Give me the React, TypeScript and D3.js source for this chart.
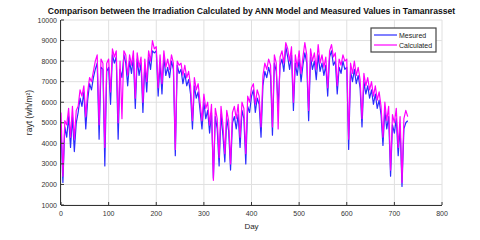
import React, { useMemo } from 'react';
import { scaleLinear, line, range } from 'd3';

// one value every 4 days (day 0 .. 728)
const STEP_DAYS = 4;

const MEASURED = [
	4700, 2100, 4800, 4300, 5300, 3800, 5300, 3600, 5000, 5500,
	6200, 5800, 6500, 4700, 6100, 6900, 6600, 7200, 7600, 7900,
	4200, 7700, 7600, 2900, 7500, 7700, 5900, 8300, 7900, 8200,
	4200, 7600, 7200, 8300, 7900, 6800, 8000, 7400, 8200, 5700,
	8100, 7300, 7900, 5500, 7800, 6500, 8200, 7600, 8500, 8400,
	8500, 6300, 7900, 6400, 8200, 7300, 7700, 7200, 8000, 7600,
	3400, 7800, 7400, 7600, 6900, 7400, 6800, 7100, 6400, 4700,
	6800, 6200, 6500, 5600, 4700, 6000, 5200, 5600, 4500, 5500,
	2300, 5300, 4700, 2900, 5400, 4400, 3100, 5200, 4600, 2700,
	5000, 5300, 4700, 5400, 3800, 5600, 5200, 3000, 5800, 5500,
	6300, 6600, 5500, 6200, 5900, 4300, 6800, 7500, 7200, 7700,
	7300, 4400, 7900, 7500, 5800, 7800, 8100, 7500, 8700, 8200,
	7600, 8300, 5600, 7900, 7300, 8100, 7000, 7800, 8400, 7900,
	5100, 8200, 7600, 8000, 7100, 8300, 7500, 7900, 7300, 7800,
	6300, 8200, 8500, 7800, 8000, 6400, 7700, 7400, 8000, 7600,
	7700, 3700, 7500, 7000, 7600, 6900, 7300, 6700, 4800, 7000,
	6400, 6800, 6200, 6600, 5900, 6400, 5700, 6100, 5400, 3900,
	5600, 4700, 5300, 2400, 4900, 4500, 5200, 3400, 4800, 1900,
	4700, 5000, 5100,
];

const CALCULATED = [
	5500, 2400, 5100, 4900, 5700, 4300, 5800, 4200, 5600, 5800,
	6600, 6300, 6800, 5300, 6500, 7200, 7000, 7500, 8000, 8300,
	4900, 8100, 7900, 3800, 7900, 8100, 6500, 8600, 8200, 8500,
	5000, 8000, 5200, 8500, 8300, 7300, 8300, 7800, 8500, 6200,
	8400, 7700, 8200, 6000, 8100, 7000, 8500, 8000, 9000, 8600,
	8700, 6700, 8300, 6900, 8500, 7700, 8100, 7600, 8300, 7900,
	3700, 8000, 7800, 7900, 7300, 7800, 7200, 7500, 6800, 5100,
	7200, 6600, 6900, 6000, 5100, 6400, 5700, 6000, 4900, 5900,
	2200, 5700, 5200, 3300, 5800, 4900, 3500, 5600, 5100, 3000,
	5500, 5800, 5200, 5900, 4300, 6000, 5700, 3500, 6300, 6000,
	6700, 6900, 5900, 6600, 6300, 4800, 7300, 7900, 7600, 8100,
	7800, 4800, 8300, 7900, 4700, 8200, 8500, 7900, 8900, 8600,
	8000, 8700, 6000, 8300, 7700, 8500, 7400, 8200, 8900, 8300,
	5600, 8600, 8000, 8400, 7600, 8800, 7900, 8300, 7700, 8200,
	6700, 8500, 8800, 8200, 8400, 6800, 8100, 7800, 8300, 8000,
	8100, 4200, 7900, 7400, 8000, 7300, 7700, 7100, 5200, 7400,
	6800, 7200, 6600, 7000, 6300, 6800, 6100, 6500, 5800, 4300,
	6000, 5100, 5800, 2700, 5400, 5000, 5700, 3800, 5300, 2100,
	5200, 5600, 5300,
];

const X_TICKS = [0, 100, 200, 300, 400, 500, 600, 700, 800];
const Y_TICKS = [1000, 2000, 3000, 4000, 5000, 6000, 7000, 8000, 9000, 10000];

const SERIES = [
	{ name: 'Mesured', values: MEASURED, color: '#2b2bff' },
	{ name: 'Calculated', values: CALCULATED, color: '#ff00ff' },
];

const W = 480;
const H = 240;
const M = { left: 61, right: 38, top: 20, bottom: 35 };
const FONT = '"Liberation Sans", Arial, sans-serif';

export default function App() {
	const chart = useMemo(() => {
		const x = scaleLinear().domain([0, 800]).range([M.left, W - M.right]);
		const y = scaleLinear().domain([1000, 10000]).range([H - M.bottom, M.top]);
		const days = range(MEASURED.length).map((i) => i * STEP_DAYS);
		const gen = line<number>()
			.x((_, i) => x(days[i]))
			.y((v) => y(v));
		return { x, y, paths: SERIES.map((s) => ({ ...s, d: gen(s.values) })) };
	}, []);

	const { x, y } = chart;
	const x0 = M.left;
	const x1 = W - M.right;
	const y0 = H - M.bottom;
	const y1 = M.top;

	return (
		<svg
			width={W}
			height={H}
			style={{ position: 'absolute', left: 0, top: 0, background: '#fff' }}
			fontFamily={FONT}
		>
			{/* grid */}
			<g stroke="#e0e0e0" strokeWidth={1}>
				{X_TICKS.map((t) => (
					<line key={`gx${t}`} x1={x(t)} x2={x(t)} y1={y0} y2={y1} />
				))}
				{Y_TICKS.map((t) => (
					<line key={`gy${t}`} x1={x0} x2={x1} y1={y(t)} y2={y(t)} />
				))}
			</g>

			{/* series */}
			{chart.paths.map((s) => (
				<path key={s.name} d={s.d || ''} fill="none" stroke={s.color} strokeWidth={1.2} strokeLinejoin="round" />
			))}

			{/* axes */}
			<g stroke="#333" strokeWidth={1} fill="none">
				<line x1={x0} x2={x1} y1={y0 + 0.5} y2={y0 + 0.5} />
				<line x1={x0 - 0.5} x2={x0 - 0.5} y1={y0} y2={y1} />
				{X_TICKS.map((t) => (
					<line key={`tx${t}`} x1={x(t)} x2={x(t)} y1={y0} y2={y0 - 3} />
				))}
				{Y_TICKS.map((t) => (
					<line key={`ty${t}`} x1={x0} x2={x0 + 3} y1={y(t)} y2={y(t)} />
				))}
			</g>
			<g fill="#333" fontSize={7}>
				{X_TICKS.map((t) => (
					<text key={`lx${t}`} x={x(t)} y={y0 + 11} textAnchor="middle">
						{t}
					</text>
				))}
				{Y_TICKS.map((t) => (
					<text key={`ly${t}`} x={x0 - 4} y={y(t) + 2.5} textAnchor="end">
						{t}
					</text>
				))}
			</g>

			<text x={(x0 + x1) / 2} y={229} textAnchor="middle" fontSize={8} fill="#262626">
				Day
			</text>
			<text
				transform={`translate(32,${(y0 + y1) / 2}) rotate(-90)`}
				textAnchor="middle"
				fontSize={8.5}
				fill="#262626"
			>
				rayt (wh/m²)
			</text>
			<text x={(x0 + x1) / 2} y={14} textAnchor="middle" fontSize={8.6} fontWeight="bold" fill="#111">
				Comparison between the Irradiation Calculated by ANN Model and Measured Values in Tamanrasset
			</text>

			{/* legend */}
			<g transform="translate(371,28)">
				<rect x={0} y={0} width={65} height={24} fill="#fff" stroke="#444" strokeWidth={1.2} />
				{SERIES.map((s, i) => (
					<g key={s.name} transform={`translate(0,${7 + i * 10})`}>
						<line x1={3} x2={26} y1={0} y2={0} stroke={s.color} strokeWidth={1.2} />
						<text x={28} y={2.5} fontSize={7} fill="#222">
							{s.name}
						</text>
					</g>
				))}
			</g>
		</svg>
	);
}
